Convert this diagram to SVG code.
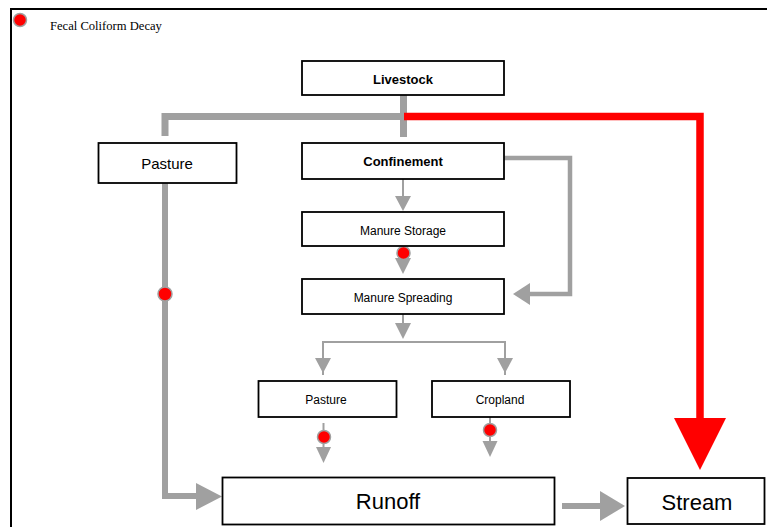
<svg xmlns="http://www.w3.org/2000/svg" width="767" height="527" viewBox="0 0 767 527">
<style>
.box{fill:#fff;stroke:#000;stroke-width:1.8}
.lbl{font-family:"Liberation Sans",sans-serif;fill:#000;text-anchor:middle}
.g{stroke:#a0a0a0;fill:none}
.gh{fill:#a0a0a0}
.dot{fill:#ff0000;stroke:#a0a0a0;stroke-width:1.5}
</style>
<rect width="767" height="527" fill="#fff"/>
<path d="M11,527 V9 H767" fill="none" stroke="#000" stroke-width="2"/>
<g id="legend">
<circle class="dot" cx="20" cy="20" r="6.5"/>
<text x="50" y="30" font-family="Liberation Serif, serif" font-size="12.6" fill="#000">Fecal Coliform Decay</text>
</g>
<g id="connectors">
<path class="g" d="M403.5,95 V137 M165,136 V116.5 H403.5" stroke-width="7"/>
<path d="M404,116.5 H700 V420" fill="none" stroke="#ff0000" stroke-width="7.5"/>
<polygon points="674,418 726,418 700,470" fill="#ff0000"/>
<path class="g" d="M165,183 V496 H198" stroke-width="6"/>
<polygon class="gh" points="196,483 222,496.5 196,510"/>
<path class="g" d="M562,506 H602" stroke-width="6"/>
<polygon class="gh" points="600,491 625,506 600,521"/>
<path class="g" d="M403,179 V198" stroke-width="2"/>
<polygon class="gh" points="395,196 411,196 403,211"/>
<path class="g" d="M403,246 V262" stroke-width="2"/>
<polygon class="gh" points="395,258 411,258 403,274"/>
<path class="g" d="M504,158 H570 V294 H528" stroke-width="4.5"/>
<polygon class="gh" points="530,283 530,305 513,294"/>
<path class="g" d="M403,314 V324" stroke-width="2"/>
<polygon class="gh" points="395,323 411,323 403,339"/>
<path class="g" d="M323,375 V342 H505 V375" stroke-width="2"/>
<polygon class="gh" points="315,358 331,358 323,373"/>
<polygon class="gh" points="497,358 513,358 505,373"/>
<path class="g" d="M323.5,423 V450" stroke-width="2"/>
<polygon class="gh" points="316,447 331,447 323.5,463"/>
<path class="g" d="M490,417 V443" stroke-width="2"/>
<polygon class="gh" points="482.5,441 497.5,441 490,457"/>
<circle class="dot" cx="165" cy="294" r="7"/>
<circle class="dot" cx="403.5" cy="253" r="6.5"/>
<circle class="dot" cx="324" cy="437" r="6.5"/>
<circle class="dot" cx="490" cy="430" r="6.5"/>
</g>
<g id="livestock"><rect class="box" x="302" y="61" width="202" height="34"/><text class="lbl" x="403" y="84" font-size="13" font-weight="bold">Livestock</text></g>
<g id="pasture-top"><rect class="box" x="98.5" y="143" width="138" height="40"/><text class="lbl" x="167" y="169" font-size="15">Pasture</text></g>
<g id="confinement"><rect class="box" x="302" y="143" width="202" height="36"/><text class="lbl" x="403" y="166" font-size="13" font-weight="bold">Confinement</text></g>
<g id="manure-storage"><rect class="box" x="302" y="212" width="202" height="34"/><text class="lbl" x="403" y="235" font-size="12">Manure Storage</text></g>
<g id="manure-spreading"><rect class="box" x="302" y="279" width="202" height="35"/><text class="lbl" x="403" y="302" font-size="12">Manure Spreading</text></g>
<g id="pasture-low"><rect class="box" x="258.5" y="381" width="138" height="36"/><text class="lbl" x="326" y="404" font-size="12">Pasture</text></g>
<g id="cropland"><rect class="box" x="432" y="381" width="138" height="36"/><text class="lbl" x="500" y="404" font-size="12">Cropland</text></g>
<g id="runoff"><rect class="box" x="222.5" y="477.5" width="332" height="47"/><text class="lbl" x="388" y="509" font-size="22">Runoff</text></g>
<g id="stream"><rect class="box" x="627.5" y="478" width="137" height="46"/><text class="lbl" x="697" y="510" font-size="22">Stream</text></g>
</svg>
